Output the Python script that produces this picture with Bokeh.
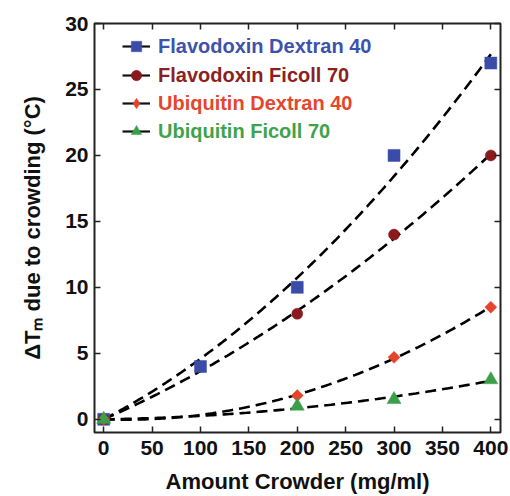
import numpy as np
from bokeh.plotting import figure
from bokeh.models import (ColumnDataSource, Legend, LegendItem, LinearAxis,
                          FixedTicker, Range1d, CustomLabelingPolicy)
from bokeh.embed import file_html
from bokeh.resources import INLINE

# Crowder concentration (mg/ml) and melting-temperature shifts (°C)
flav_dex_x = [0, 100, 200, 300, 400]
flav_dex_y = [0, 4, 10, 20, 27]
flav_fic_x = [0, 200, 300, 400]
flav_fic_y = [0, 8, 14, 20]
ubq_dex_x = [0, 200, 300, 400]
ubq_dex_y = [0, 1.8, 4.7, 8.5]
ubq_fic_x = [0, 200, 300, 400]
ubq_fic_y = [0, 1.0, 1.5, 3.0]

names = ["Flavodoxin Dextran 40", "Flavodoxin Ficoll 70",
         "Ubiquitin Dextran 40", "Ubiquitin Ficoll 70"]
colors = ["#3a4ca8", "#8a1a1e", "#e5432b", "#3a9f48"]
text_colors = ["#3e52ad", "#8c1f22", "#e4472d", "#3fa34b"]
markers = ["square", "circle", "square", "triangle"]
key_markers = ["square", "circle", "diamond", "triangle"]
marker_sizes = [12, 11, 8.5, 14]
marker_angles = [0, 0, np.pi / 4, 0]

x_ticks = [0, 50, 100, 150, 200, 250, 300, 350, 400]
y_ticks = [0, 5, 10, 15, 20, 25, 30]

series = [(flav_dex_x, flav_dex_y), (flav_fic_x, flav_fic_y),
          (ubq_dex_x, ubq_dex_y), (ubq_fic_x, ubq_fic_y)]

FONT = "Liberation Sans"

p = figure(width=510, height=496, output_backend="svg", toolbar_location=None,
           x_range=Range1d(-9.5, 410), y_range=Range1d(-1, 30),
           min_border_left=94, min_border_right=10,
           min_border_top=23, min_border_bottom=63)
p.grid.visible = False
p.outline_line_color = "#222222"
p.outline_line_width = 2
p.background_fill_color = "white"
p.border_fill_color = "white"

no_labels = CustomLabelingPolicy(code="""
    for (const i of Array.from(indices)) indices.unset(i)
    return indices
""")


def style_axis(ax, ticks, show_labels):
    ax.ticker = FixedTicker(ticks=ticks)
    ax.minor_tick_line_color = None
    ax.major_tick_in = 6
    ax.major_tick_out = 0
    ax.major_tick_line_width = 1.5
    ax.major_tick_line_color = "#222222"
    ax.axis_line_color = None
    ax.major_label_text_font = FONT
    ax.major_label_text_font_style = "bold"
    ax.major_label_text_color = "#111111"
    ax.major_label_text_font_size = "21px"
    ax.axis_label_text_font = FONT
    ax.axis_label_text_font_style = "bold"
    ax.axis_label_text_font_size = "22px"
    ax.axis_label_text_color = "#111111"
    if not show_labels:
        ax.major_label_policy = no_labels
        ax.major_label_text_color = None
        ax.major_label_text_font_size = "1px"
        ax.major_label_standoff = 0


style_axis(p.xaxis[0], x_ticks, True)
style_axis(p.yaxis[0], y_ticks, True)
p.xaxis[0].major_label_standoff = 8
p.yaxis[0].major_label_standoff = 6
p.xaxis[0].axis_label = "Amount Crowder (mg/ml)"
p.xaxis[0].axis_label_standoff = 11
p.yaxis[0].axis_label = "ΔTₘ due to crowding (°C)"
p.yaxis[0].axis_label_standoff = 17

top_axis = LinearAxis()
style_axis(top_axis, x_ticks, False)
p.add_layout(top_axis, "above")
right_axis = LinearAxis()
style_axis(right_axis, y_ticks, False)
p.add_layout(right_axis, "right")

# Quadratic fits through the origin, drawn as dashed curves
fit_x = np.linspace(0, 400, 161)
for xs, ys in series:
    xa = np.asarray(xs, dtype=float)
    A = np.column_stack([xa, xa ** 2])
    coef, *_ = np.linalg.lstsq(A, np.asarray(ys, dtype=float), rcond=None)
    fit_y = coef[0] * fit_x + coef[1] * fit_x ** 2
    p.line(fit_x, fit_y, line_color="black", line_width=2.6, line_dash="11 6")

# Data points and a separate legend box per series (coloured labels)
legend_bottoms = [373, 344, 316, 288]
for (xs, ys), name, c, tc, m, km, s, a, lb in zip(
        series, names, colors, text_colors, markers, key_markers,
        marker_sizes, marker_angles, legend_bottoms):
    src = ColumnDataSource(dict(x=xs, y=ys))
    p.scatter("x", "y", source=src, marker=m, size=s, angle=a,
              fill_color=c, line_color=c, line_width=0.5)
    # legend key: short solid line with the series marker on top
    key_src = ColumnDataSource(dict(x=[np.nan], y=[np.nan]))
    key_line = p.line("x", "y", source=key_src, line_color="#111111",
                      line_width=2.2)
    key_mark = p.scatter("x", "y", source=key_src, marker=km, size=s,
                         fill_color=c, line_color=c, line_width=0.5)
    leg = Legend(items=[LegendItem(label=name, renderers=[key_line, key_mark])],
                 location=(28, lb), padding=0, margin=0, spacing=0,
                 glyph_width=28, glyph_height=26, label_height=26,
                 label_standoff=8, border_line_color=None,
                 background_fill_alpha=0,
                 label_text_font=FONT, label_text_font_style="bold",
                 label_text_font_size="20px", label_text_color=tc)
    p.add_layout(leg, "center")

open("out.html", "w").write(file_html(p, INLINE))
